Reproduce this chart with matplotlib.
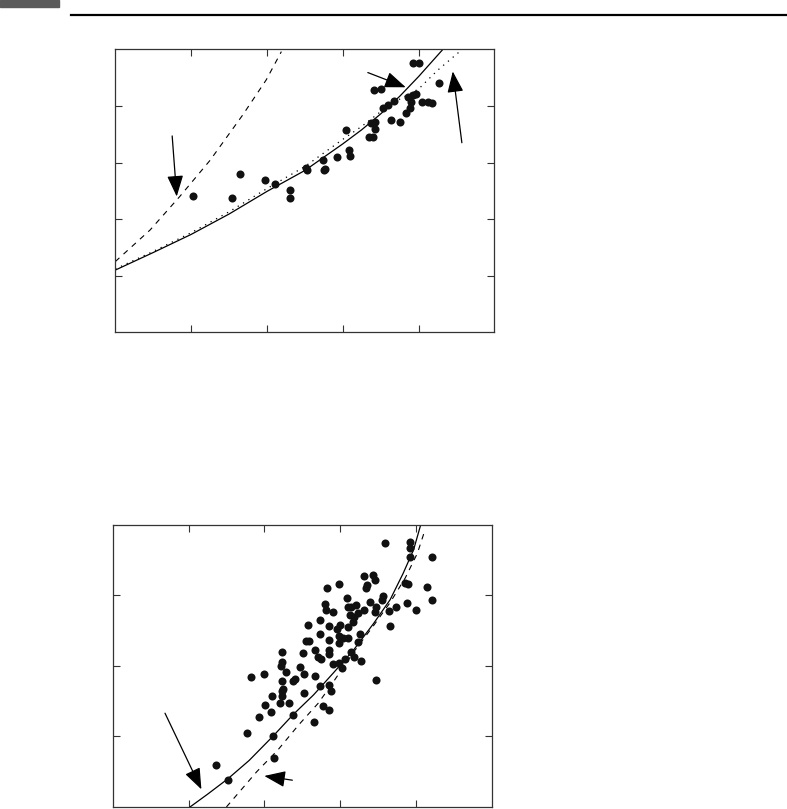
import matplotlib.pyplot as plt
from matplotlib.patches import Rectangle

# ---- upper panel data (axis units 0..5) ----
top_pts_x = [1.02, 1.54, 1.65, 1.98, 2.11, 2.31, 2.31, 2.52, 2.53, 2.74, 2.75, 2.76,
             2.92, 3.04, 3.08, 3.10, 3.35, 3.40, 3.37, 3.42, 3.42, 3.41, 3.51, 3.53,
             3.59, 3.64, 3.68, 3.75, 3.83, 3.86, 3.88, 3.90, 3.92, 3.96, 3.92, 4.01,
             4.05, 4.12, 4.18, 4.27]
top_pts_y = [2.41, 2.38, 2.80, 2.70, 2.62, 2.51, 2.38, 2.90, 2.86, 3.04, 2.87, 2.89,
             3.10, 3.57, 3.23, 3.12, 3.45, 3.46, 3.69, 3.72, 3.59, 4.28, 4.30, 3.97,
             4.02, 3.76, 4.09, 3.72, 3.87, 4.16, 3.96, 4.07, 4.19, 4.21, 4.75, 4.76,
             4.07, 4.07, 4.06, 4.41]

top_solid_x = [0.0, 0.5, 1.0, 1.5, 2.0, 2.5, 3.0, 3.25, 3.5, 3.75, 4.0, 4.32]
top_solid_y = [1.10, 1.41, 1.73, 2.09, 2.49, 2.86, 3.33, 3.58, 3.86, 4.17, 4.52, 5.00]

top_dot_x = [0.0, 0.5, 1.0, 1.5, 2.0, 2.5, 3.0, 3.25, 3.5, 3.75, 4.0, 4.25, 4.54]
top_dot_y = [1.12, 1.43, 1.76, 2.13, 2.54, 2.93, 3.41, 3.64, 3.90, 4.12, 4.30, 4.63, 4.96]

top_dash_x = [0.0, 0.46, 0.85, 1.25, 1.68, 1.99, 2.19]
top_dash_y = [1.25, 1.81, 2.40, 3.04, 3.84, 4.46, 4.96]

top_arrows = [((0.75, 3.47), (0.81, 2.40)),
              ((3.33, 4.59), (3.83, 4.33)),
              ((4.57, 3.35), (4.45, 4.61))]

# ---- lower panel data (axis units x 0..5, y 0..4) ----
bot_pts_x = [3.59, 3.92, 3.92, 3.92, 4.21, 3.32, 3.44, 3.46, 3.35, 3.34, 2.98, 2.83,
             3.86, 3.90, 4.14, 4.21, 3.88, 4.00, 3.74, 3.64, 3.66, 3.57, 3.55, 3.47,
             3.40, 3.46, 3.09, 2.80, 2.82, 2.91, 3.10, 3.15, 3.21, 3.31, 3.13, 3.18,
             3.23, 3.17, 3.11, 3.00, 2.85, 2.96, 2.74, 2.57, 2.73, 2.85, 2.99, 3.04,
             3.10, 2.98, 3.26, 3.24, 2.55, 2.59, 2.51, 2.67, 2.71, 2.75, 2.85, 2.86,
             3.14, 3.18, 3.07, 3.27, 2.91, 2.99, 3.02, 3.47, 2.23, 2.23, 2.22, 2.47,
             2.29, 2.53, 2.67, 2.40, 2.38, 1.99, 1.83, 2.23, 2.25, 2.23, 2.10, 2.21,
             2.32, 2.24, 2.53, 2.74, 2.85, 2.88, 2.77, 2.85, 2.65, 2.38, 2.01, 2.09,
             1.93, 1.77, 2.11, 2.13, 1.36, 1.52]
bot_pts_y = [3.74, 3.76, 3.67, 3.54, 3.55, 3.27, 3.29, 3.22, 3.15, 3.10, 3.16, 3.10,
             3.18, 3.16, 3.12, 2.93, 2.90, 2.80, 2.84, 2.78, 2.57, 2.99, 2.94, 2.84,
             2.91, 2.77, 2.97, 2.88, 2.79, 2.76, 2.83, 2.84, 2.86, 2.79, 2.72, 2.70,
             2.75, 2.63, 2.55, 2.58, 2.57, 2.53, 2.65, 2.58, 2.46, 2.37, 2.43, 2.39,
             2.39, 2.33, 2.45, 2.34, 2.35, 2.35, 2.18, 2.23, 2.13, 2.10, 2.23, 2.17,
             2.20, 2.13, 2.10, 2.07, 2.03, 2.04, 1.97, 1.80, 2.20, 2.05, 2.00, 1.99,
             1.91, 1.88, 1.86, 1.82, 1.78, 1.88, 1.84, 1.78, 1.68, 1.64, 1.57, 1.47,
             1.48, 1.57, 1.62, 1.72, 1.73, 1.65, 1.43, 1.37, 1.20, 1.30, 1.44, 1.35,
             1.28, 1.05, 1.00, 0.69, 0.60, 0.38]

bot_solid_x = [1.02, 1.25, 1.52, 1.80, 2.12, 2.38, 2.65, 2.91, 3.18, 3.44, 3.66, 3.83, 3.97, 4.06]
bot_solid_y = [0.00, 0.18, 0.40, 0.66, 1.01, 1.31, 1.59, 1.90, 2.23, 2.60, 2.94, 3.31, 3.65, 3.99]

bot_dash_x = [1.50, 1.90, 2.18, 2.45, 2.71, 2.87, 3.18, 3.44, 3.66, 3.86, 4.02, 4.12]
bot_dash_y = [0.00, 0.50, 0.81, 1.16, 1.47, 1.71, 2.20, 2.57, 2.90, 3.25, 3.60, 3.93]

bot_arrows = [((0.69, 1.33), (1.17, 0.25)),
              ((2.37, 0.38), (2.00, 0.44))]

x_ticks = [1, 2, 3, 4]
top_y_ticks = [1, 2, 3, 4]
bot_y_ticks = [1, 2, 3]


def style_axes(ax, xlim, ylim, yticks):
    ax.set_xlim(*xlim)
    ax.set_ylim(*ylim)
    ax.set_xticks(x_ticks)
    ax.set_yticks(yticks)
    ax.tick_params(direction='in', length=5, width=0.8, color='#333333',
                   top=True, right=True, labelbottom=False, labelleft=False)
    for s in ax.spines.values():
        s.set_linewidth(0.9)
        s.set_color('#333333')


def draw_arrow(ax, tail, head):
    ax.annotate('', xy=head, xytext=tail,
                arrowprops=dict(arrowstyle='-|>,head_length=1.3,head_width=0.5',
                                color='black', lw=0.9, shrinkA=0, shrinkB=0))


fig = plt.figure(figsize=(7.87, 8.09), dpi=100)

# page header bits
fig.patches.append(Rectangle((0, 1 - 7 / 809), 59 / 787, 7 / 809, transform=fig.transFigure,
                             color='#5b5b5b', zorder=5))
fig.add_artist(plt.Line2D([71 / 787, 1], [1 - 14.7 / 809] * 2, transform=fig.transFigure,
                          color='black', lw=1.6))

# upper panel
ax1 = fig.add_axes([0.1465, 0.5892, 0.4818, 0.3498])
ax1.plot(top_dash_x, top_dash_y, color='black', lw=0.8, dashes=(5, 5))
ax1.plot(top_dot_x, top_dot_y, color='black', lw=0.9, dashes=(1, 4))
ax1.plot(top_solid_x, top_solid_y, color='black', lw=0.9)
ax1.plot(top_pts_x, top_pts_y, 'o', color='#111111', ms=5.8, mew=0)
for tail, head in top_arrows:
    draw_arrow(ax1, tail, head)
style_axes(ax1, (0, 5), (0, 5), top_y_ticks)

# lower panel
ax2 = fig.add_axes([0.1432, 0.0025, 0.4816, 0.3486])
ax2.plot(bot_dash_x, bot_dash_y, color='black', lw=0.8, dashes=(5, 5))
ax2.plot(bot_solid_x, bot_solid_y, color='black', lw=0.9)
ax2.plot(bot_pts_x, bot_pts_y, 'o', color='#111111', ms=5.8, mew=0)
for tail, head in bot_arrows:
    draw_arrow(ax2, tail, head)
style_axes(ax2, (0, 5), (0, 4), bot_y_ticks)

fig.savefig('out.png', dpi=100)
